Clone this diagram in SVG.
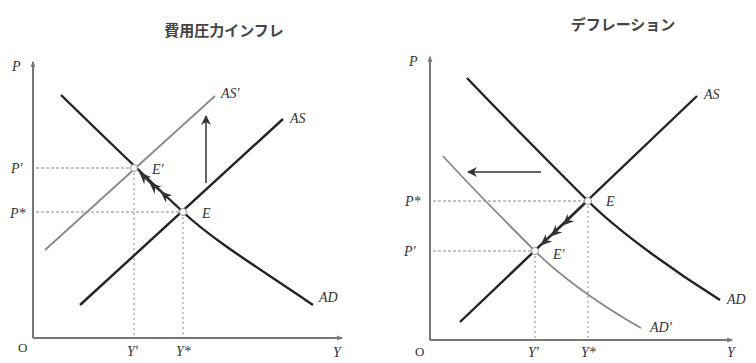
<svg xmlns="http://www.w3.org/2000/svg" width="756" height="363" viewBox="0 0 756 363">
<style>
.title{font-family:"Noto Sans CJK JP","Noto Sans",sans-serif;font-size:15px;font-weight:bold;fill:#444;text-anchor:middle}
.lbl{font-family:"Liberation Serif",serif;font-style:italic;font-size:14px;fill:#333}
.o{font-family:"Liberation Serif",serif;font-size:13px;fill:#333}
.axis{stroke:#777;stroke-width:2;fill:none}
.dark{stroke:#222;stroke-width:2.4;fill:none}
.gray{stroke:#888;stroke-width:1.8;fill:none}
.dash{stroke:#888;stroke-width:1;stroke-dasharray:3,2;fill:none}
.dot{stroke:#888;stroke-width:1;stroke-dasharray:2,3;fill:none}
.pt{fill:#fff;stroke:#999;stroke-width:1}
.arr{stroke:#333;stroke-width:1.5;fill:none}
</style>
<defs>
<marker id="ax" viewBox="0 0 10 10" refX="8" refY="5" markerWidth="6" markerHeight="6" orient="auto" markerUnits="userSpaceOnUse">
<path d="M0,1 L10,5 L0,9 z" fill="#777"/>
</marker>
<marker id="ah" viewBox="0 0 10 10" refX="9" refY="5" markerWidth="10" markerHeight="10" orient="auto" markerUnits="userSpaceOnUse">
<path d="M0,0 L10,5 L0,10 L3,5 z" fill="#333"/>
</marker>
<marker id="ch" viewBox="0 0 12 10" refX="11" refY="5" markerWidth="12" markerHeight="10" orient="auto" markerUnits="userSpaceOnUse">
<path d="M0,0 L12,5 L0,10 L4,5 z" fill="#333"/>
</marker>
</defs>

<text class="title" x="224" y="36">費用圧力インフレ</text>
<text class="title" x="623" y="30">デフレーション</text>

<g id="left-axes">
<path class="axis" d="M33,338 L33,62" marker-end="url(#ax)"/>
<path class="axis" d="M33,338 L342,338" marker-end="url(#ax)"/>
<text class="lbl" x="12" y="71">P</text>
<text class="o" x="18" y="352">O</text>
<text class="lbl" x="333" y="357">Y</text>
</g>

<g id="left-guides">
<path class="dash" d="M36,168 L134,168"/>
<path class="dash" d="M36,212 L183,212"/>
<path class="dot" d="M134,168 L134,336"/>
<path class="dot" d="M183,212 L183,336"/>
<text class="lbl" x="11" y="173">P′</text>
<text class="lbl" x="10" y="218">P*</text>
<text class="lbl" x="127" y="356">Y′</text>
<text class="lbl" x="176" y="356">Y*</text>
</g>

<g id="left-AD">
<path class="dark" d="M61,95 C100,133 150,181 183,212 S270,275 313,305"/>
<text class="lbl" x="319" y="302">AD</text>
</g>
<g id="left-AS">
<path class="dark" d="M80,305 L283,119"/>
<text class="lbl" x="290" y="123">AS</text>
</g>
<g id="left-ASp">
<path class="gray" d="M45,250 L215,96"/>
<text class="lbl" x="221" y="98">AS′</text>
</g>

<g id="left-points">
<circle class="pt" cx="134" cy="168" r="3.5"/>
<circle class="pt" cx="183" cy="212" r="3.5"/>
<text class="lbl" x="152" y="174">E′</text>
<text class="lbl" x="202" y="218">E</text>
</g>

<g id="right-axes">
<path class="axis" d="M430,340 L430,57" marker-end="url(#ax)"/>
<path class="axis" d="M430,340 L732,340" marker-end="url(#ax)"/>
<text class="lbl" x="409" y="66">P</text>
<text class="o" x="415" y="356">O</text>
<text class="lbl" x="727" y="357">Y</text>
</g>

<g id="right-guides">
<path class="dash" d="M433,201 L588,201"/>
<path class="dash" d="M433,251 L535,251"/>
<path class="dot" d="M535,251 L535,338"/>
<path class="dot" d="M588,201 L588,338"/>
<text class="lbl" x="405" y="206">P*</text>
<text class="lbl" x="404" y="256">P′</text>
<text class="lbl" x="528" y="357">Y′</text>
<text class="lbl" x="581" y="357">Y*</text>
</g>

<g id="right-AD">
<path class="dark" d="M467,78 C505,118 555,168 588,201 S680,275 720,300"/>
<text class="lbl" x="727" y="304">AD</text>
</g>
<g id="right-ADp">
<path class="gray" d="M443,156 C470,186 510,226 535,251 S600,305 641,328"/>
<text class="lbl" x="650" y="332">AD′</text>
</g>
<g id="right-AS">
<path class="dark" d="M460,322 L697,96"/>
<text class="lbl" x="704" y="99">AS</text>
</g>

<g id="right-points">
<circle class="pt" cx="535" cy="251" r="3.5"/>
<circle class="pt" cx="588" cy="201" r="3.5"/>
<text class="lbl" x="553" y="259">E′</text>
<text class="lbl" x="606" y="206">E</text>
</g>

<g id="connectors">
<path class="arr" d="M206,183 L206,116" marker-end="url(#ah)"/>
<path class="arr" d="M541,172 L468,172" marker-end="url(#ah)"/>
<path class="arr" d="M180,209 L161,192 L150,183 L140,173" marker-mid="url(#ch)" marker-end="url(#ch)"/>
<path class="arr" d="M585,204 L563,225 L551,236 L541,245" marker-mid="url(#ch)" marker-end="url(#ch)"/>
</g>
</svg>
